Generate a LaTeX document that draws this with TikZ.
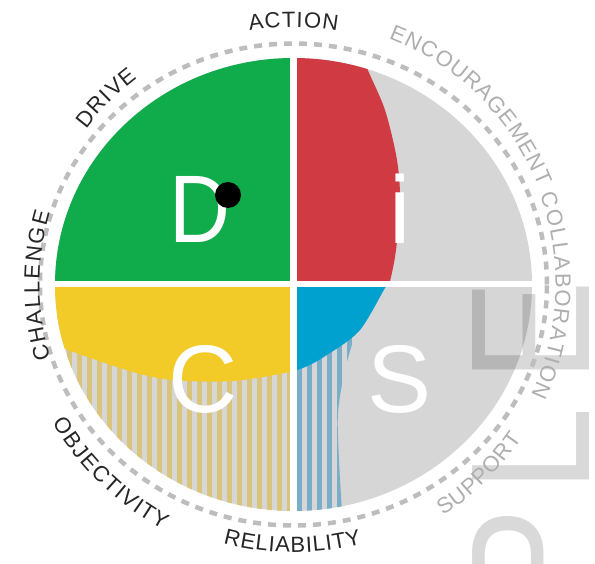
\documentclass[tikz,border=0pt]{standalone}
\usepackage{fontspec}
\setmainfont{Liberation Sans}
\newfontfamily\ringfont{Liberation Sans}
\usetikzlibrary{decorations.text}

\definecolor{dgreen}{HTML}{10AC4C}
\definecolor{ired}{HTML}{CF3A43}
\definecolor{cyellow}{HTML}{F3CB28}
\definecolor{sblue}{HTML}{00A1CF}
\definecolor{ground}{HTML}{D6D6D6}
\definecolor{tanstripe}{HTML}{D9C47C}
\definecolor{bluestripe}{HTML}{7AAEC8}
\definecolor{ringgray}{HTML}{BDBDBD}
\definecolor{inkdark}{HTML}{262626}
\definecolor{inklight}{HTML}{AEAEAE}

\begin{document}
\begin{tikzpicture}
 [ x=1pt, y=1pt
 , ring/.style={draw=ringgray, line width=4.5pt, dash pattern=on 8pt off 7pt}
 , big letter/.style={text=white, font=\fontsize{96}{96}\selectfont, inner sep=0pt, anchor=base}
 , wordmark/.style={text=black, opacity=0.15, font=\fontsize{170}{170}\selectfont, rotate=90, inner sep=0pt}
 , dark label/.style={decorate, decoration={text along path, text align=fit to path, text color=inkdark, text={|\ringfont\fontsize{22}{22}\selectfont|#1}}}
 , light label/.style={decorate, decoration={text along path, text align=fit to path, text color=inklight, text={|\ringfont\fontsize{22}{22}\selectfont|#1}}}
 ]
  \useasboundingbox (-293.5,-278.5) rectangle (301.5,284.5);

  \begin{scope}
    \clip (0,0) ellipse [x radius=238.5, y radius=226.5];
    \fill[ground] (-250,-250) rectangle (250,250);
    \fill[dgreen] (-250,0) rectangle (0,250);
    % striped parts
    \foreach \k in {-30,...,-1}
      \fill[tanstripe] (3.5+10*\k,0) rectangle ++(5,-240);
    \begin{scope}
      \clip (0,0) -- (85,0) -- plot[smooth] coordinates
        {(80,-15) (63.5,-45.5) (51.5,-85.5) (44.5,-128.5) (45.5,-175.5) (48.5,-227.5) (50,-260)}
        -- (0,-260) -- cycle;
      \foreach \k in {0,...,8}
        \fill[bluestripe] (3.5+10*\k,0) rectangle ++(5,-240);
    \end{scope}
    % priority area
    \begin{scope}
      \clip plot[smooth] coordinates
        {(68.5,234.5) (73.5,216.5) (91.5,174.5) (103.5,124.5) (106.5,84.5)
         (102.5,34.5) (96.5,3.5) (91.5,-3.5) (66.5,-45.5) (36.5,-68.5)
         (3.5,-85.5) (-60.5,-96.5) (-120.5,-95.5) (-160.5,-87.5)
         (-225.5,-65.5) (-253.5,-51.5)}
        -- (-300,-51.5) -- (-300,300) -- (68.5,300) -- cycle;
      \fill[ired] (0,0) rectangle (250,250);
      \fill[cyellow] (-250,0) rectangle (0,-250);
      \fill[sblue] (0,0) rectangle (250,-250);
    \end{scope}
  \end{scope}
  \fill[white] (-3.5,-232) rectangle (3.5,232);
  \fill[white] (-245,-2.5) rectangle (245,3.5);

  \node[big letter] (d) at (-93.5,42.5) {\scalebox{0.88}[1]{D}};
  \node[big letter] (i) at (107,41.5) {i};
  \node[big letter] (c) at (-90.5,-127.5) {C};
  \node[big letter] (s) at (106.5,-127.5) {S};
  \node[circle, fill=black, minimum size=26pt, inner sep=0pt] (dot) at (-65.5,89.5) {};

  \node[wordmark] (wm-e) at (237.5,-46.5) {\scalebox{0.9}[1]{E}};
  \node[wordmark] (wm-l) at (237.5,-165) {\scalebox{0.9}[1]{L}};
  \node[wordmark] (wm-p) at (237.5,-274.5) {\scalebox{0.9}[1]{P}};

  \draw[ring] (0,0) ellipse [x radius=253.5, y radius=241];

  \path[dark label=ACTION] (99.8:257.5) arc[start angle=99.8, end angle=80.2, radius=257.5];
  \path[dark label=DRIVE] (143.2:259) arc[start angle=143.2, end angle=127.1, radius=259];
  \path[dark label=CHALLENGE] (197:254) arc[start angle=197, end angle=163.5, radius=254];
  \path[light label=ENCOURAGEMENT] (68.9:264) arc[start angle=68.9, end angle=21.8, radius=264];
  \path[light label=COLLABORATION] (20:262) arc[start angle=20, end angle=-25, radius=262];
  \path[dark label=OBJECTIVITY] (209.9:277.5) arc[start angle=209.9, end angle=242, radius=277.5];
  \path[dark label=RELIABILITY] (254.8:268) arc[start angle=254.8, end angle=284.8, radius=268];
  \path[light label=SUPPORT] (-57.1:275.5) arc[start angle=-57.1, end angle=-34, radius=275.5];
\end{tikzpicture}
\end{document}
